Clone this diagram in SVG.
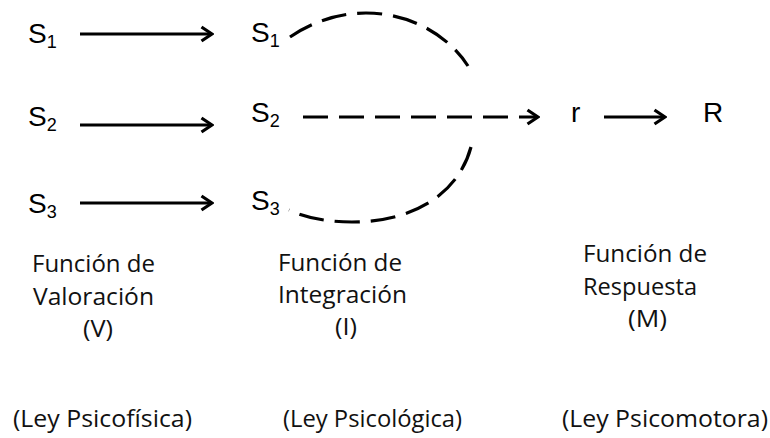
<svg xmlns="http://www.w3.org/2000/svg" width="770" height="438" viewBox="0 0 770 438">
  <defs>
    <marker id="chev" markerWidth="14" markerHeight="18" refX="12" refY="9" orient="auto" markerUnits="userSpaceOnUse">
      <path d="M1.5 2 L12 9 L1.5 16" fill="none" stroke="#000" stroke-width="3.2" stroke-linejoin="miter"/>
    </marker>
  </defs>
  <style>
    .sym { font-family: "Liberation Sans", Arial, sans-serif; font-size: 28px; fill: #000; }
    .sub { font-size: 18px; }
    .lbl { font-family: "Open Sans", "Noto Sans", sans-serif; font-size: 24.5px; fill: #111; }
    .ln { stroke: #000; stroke-width: 3.2; fill: none; }
    .dash { stroke: #000; stroke-width: 3.2; fill: none; stroke-dasharray: 25 11; }
  </style>
  <rect width="770" height="438" fill="#fff"/>

  <!-- stimulus inputs -->
  <g id="s1-in"><text class="sym" x="28" y="43">S<tspan class="sub" dy="5">1</tspan></text></g>
  <g id="s2-in"><text class="sym" x="28" y="126">S<tspan class="sub" dy="5">2</tspan></text></g>
  <g id="s3-in"><text class="sym" x="28" y="213">S<tspan class="sub" dy="5">3</tspan></text></g>

  <!-- valued stimuli -->
  <g id="s1-val"><text class="sym" x="251" y="42">S<tspan class="sub" dy="5">1</tspan></text></g>
  <g id="s2-val"><text class="sym" x="251" y="122">S<tspan class="sub" dy="5">2</tspan></text></g>
  <g id="s3-val"><text class="sym" x="251" y="210">S<tspan class="sub" dy="5">3</tspan></text></g>

  <!-- internal and overt response -->
  <g id="r-int"><text class="sym" x="571" y="122">r</text></g>
  <g id="r-out"><text class="sym" x="703" y="122">R</text></g>

  <!-- connectors -->
  <g id="connectors">
    <line class="ln" x1="80" y1="34" x2="212" y2="34" marker-end="url(#chev)"/>
    <line class="ln" x1="80" y1="125" x2="212" y2="125" marker-end="url(#chev)"/>
    <line class="ln" x1="80" y1="203" x2="212" y2="203" marker-end="url(#chev)"/>
    <line class="dash" x1="303" y1="117" x2="538" y2="117" marker-end="url(#chev)"/>
    <line class="ln" x1="604" y1="117" x2="665" y2="117" marker-end="url(#chev)"/>
    <path class="dash" d="M290 37 C312 22 338 13 366 13 C410 13 448 35 468 66"/>
    <path class="dash" d="M471 147 C458 195 412 222 352 222 C322 222 302 216 289 210"/>
  </g>

  <!-- function captions -->
  <g id="cap-v">
    <text class="lbl" x="32" y="272" textLength="123" lengthAdjust="spacingAndGlyphs">Función de</text>
    <text class="lbl" x="33" y="305" textLength="121" lengthAdjust="spacingAndGlyphs">Valoración</text>
    <text class="lbl" x="83" y="337" textLength="30" lengthAdjust="spacingAndGlyphs">(V)</text>
  </g>
  <g id="cap-i">
    <text class="lbl" x="278" y="271" textLength="124" lengthAdjust="spacingAndGlyphs">Función de</text>
    <text class="lbl" x="278" y="303" textLength="129" lengthAdjust="spacingAndGlyphs">Integración</text>
    <text class="lbl" x="335" y="335" textLength="22" lengthAdjust="spacingAndGlyphs">(I)</text>
  </g>
  <g id="cap-m">
    <text class="lbl" x="583" y="262" textLength="124" lengthAdjust="spacingAndGlyphs">Función de</text>
    <text class="lbl" x="583" y="295" textLength="114" lengthAdjust="spacingAndGlyphs">Respuesta</text>
    <text class="lbl" x="628" y="327" textLength="39" lengthAdjust="spacingAndGlyphs">(M)</text>
  </g>

  <!-- law captions -->
  <g id="law-v"><text class="lbl" x="13" y="427" textLength="179" lengthAdjust="spacingAndGlyphs">(Ley Psicofísica)</text></g>
  <g id="law-i"><text class="lbl" x="283" y="427" textLength="179" lengthAdjust="spacingAndGlyphs">(Ley Psicológica)</text></g>
  <g id="law-m"><text class="lbl" x="562" y="427" textLength="206" lengthAdjust="spacingAndGlyphs">(Ley Psicomotora)</text></g>
</svg>
